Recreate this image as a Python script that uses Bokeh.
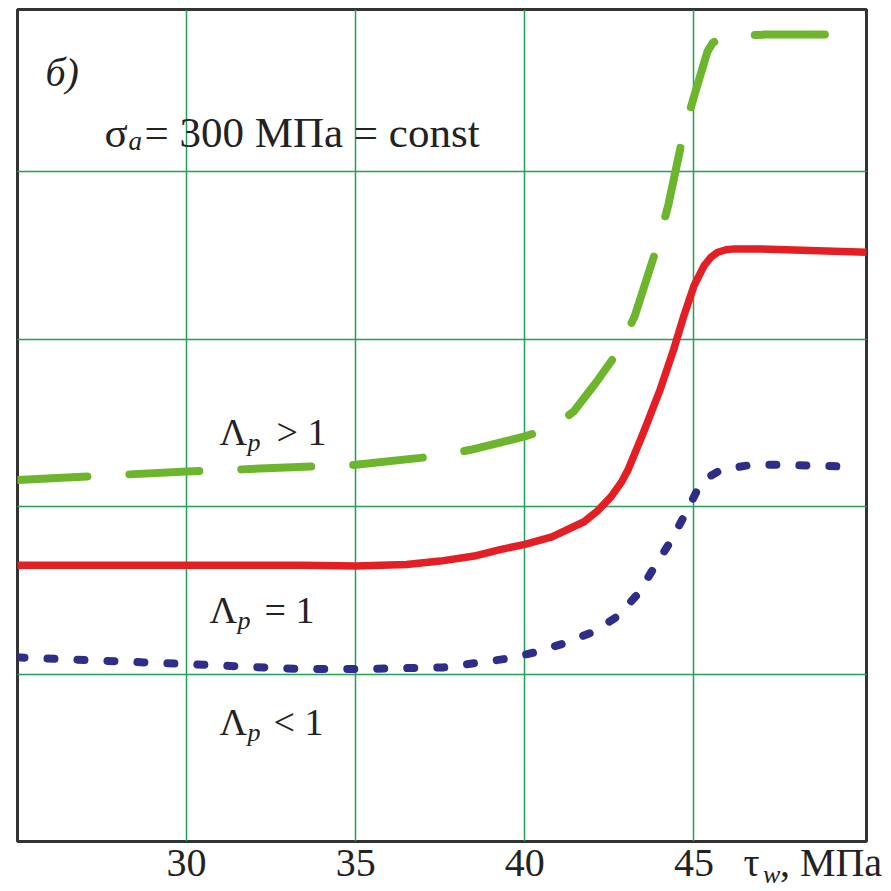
from bokeh.plotting import figure
from bokeh.models import Range1d, FixedTicker, Grid, Label, LinearAxis
from bokeh.embed import file_html
from bokeh.resources import INLINE

# ---- data ----
tau_eq = [25.0, 30.0, 33.4, 35.0, 36.5, 37.5, 38.5, 39.3, 40.0, 40.8, 41.75, 42.15, 42.55,
          42.85, 43.05, 43.5, 44.0, 44.4, 44.7, 45.0, 45.3, 45.5, 45.7, 45.95, 46.2, 47.0, 50.1]
lam_eq = [1.65, 1.65, 1.65, 1.645, 1.655, 1.675, 1.705, 1.745, 1.775, 1.82, 1.91, 1.975, 2.06,
          2.145, 2.22, 2.44, 2.70, 2.94, 3.14, 3.32, 3.44, 3.49, 3.52, 3.535, 3.54, 3.54, 3.52]

tau_gt = [25.0, 30.0, 35.0, 37.3, 38.4, 40.0, 40.6, 41.0, 41.45, 42.1, 42.8, 43.25, 43.95,
          44.25, 44.7, 45.0, 45.4, 45.55, 45.8, 46.0, 47.1, 49.4]
lam_gt = [2.16, 2.21, 2.25, 2.30, 2.34, 2.42, 2.46, 2.50, 2.57, 2.74, 2.94, 3.14, 3.58,
          3.81, 4.24, 4.45, 4.72, 4.77, 4.80, 4.81, 4.82, 4.82]

tau_lt = [25.0, 30.0, 33.4, 35.0, 37.6, 39.4, 40.3, 41.1, 42.0, 42.7, 43.35, 43.8,
          44.3, 44.7, 45.1, 45.45, 45.8, 46.7, 47.6, 49.45]
lam_lt = [1.10, 1.06, 1.03, 1.03, 1.04, 1.09, 1.13, 1.18, 1.25, 1.34, 1.48, 1.63,
          1.79, 1.94, 2.10, 2.18, 2.22, 2.25, 2.25, 2.24]

x_ticks = [30, 35, 40, 45]
y_grid = [1, 2, 3, 4]

# axis title "τ_w, МПа" placed as extra labels on the x axis row
unit_ticks = [46.7, 49.05]
unit_texts = ["τ", ", МПа"]
sub_tick = 47.3
sub_text = "w"

X0, X1 = 25.0, 50.1
Y0, Y1 = 0.0, 4.97

# frame geometry (pixels)
FL, FR, FT, FB = 17, 866, 9, 842
W = H = 891

FONT = "Liberation Serif"
INK = "#222222"

p = figure(width=W, height=H, x_range=Range1d(X0, X1), y_range=Range1d(Y0, Y1),
           output_backend="svg", toolbar_location=None, y_axis_location=None,
           min_border_left=FL, min_border_right=W - FR, min_border_top=FT,
           min_border_bottom=H - FB)

p.outline_line_color = "#333333"
p.outline_line_width = 3
p.background_fill_color = "white"
p.border_fill_color = "white"

ax = p.xaxis[0]
ax.ticker = FixedTicker(ticks=x_ticks + unit_ticks)
ax.major_label_overrides = {t: s for t, s in zip(unit_ticks, unit_texts)}
ax.axis_line_color = None
ax.major_tick_line_color = None
ax.minor_tick_line_color = None
ax.major_tick_out = 0
ax.major_tick_in = 0
ax.major_label_text_font = FONT
ax.major_label_text_font_size = "40px"
ax.major_label_text_color = INK
ax.major_label_standoff = -2

ax2 = LinearAxis(ticker=FixedTicker(ticks=[sub_tick]),
                 major_label_overrides={sub_tick: sub_text},
                 axis_line_color=None, major_tick_line_color=None,
                 minor_tick_line_color=None, major_tick_out=0, major_tick_in=0,
                 major_label_text_font=FONT, major_label_text_font_size="26px",
                 major_label_text_font_style="italic",
                 major_label_text_color=INK, major_label_standoff=-28)
p.add_layout(ax2, "below")

p.xgrid.ticker = FixedTicker(ticks=x_ticks)
p.xgrid.grid_line_color = "#22a05a"
p.xgrid.grid_line_width = 1.5
p.add_layout(Grid(dimension=1, ticker=FixedTicker(ticks=y_grid),
                  grid_line_color="#22a05a", grid_line_width=1.5))

p.line(tau_gt, lam_gt, line_color="#6cb52d", line_width=8, line_dash="70 42",
       line_cap="round", line_join="round")
p.line(tau_eq, lam_eq, line_color="#e31e24", line_width=7.5, line_cap="round",
       line_join="round")
p.line(tau_lt, lam_lt, line_color="#2e2d88", line_width=8, line_dash="7 23",
       line_cap="round", line_join="round")


def dx(px):
    return X0 + (px - FL) * (X1 - X0) / (FR - FL)


def dy(py):
    return Y0 + (FB - py) * (Y1 - Y0) / (FB - FT)


def txt(px, py, s, size="40px", italic=False):
    p.add_layout(Label(x=dx(px), y=dy(py), text=s, text_font=FONT,
                       text_font_size=size,
                       text_font_style="italic" if italic else "normal",
                       text_color=INK, text_baseline="alphabetic",
                       text_align="left"))


txt(45, 72, "б)", "40px", True)

txt(104, 132, "σ", "43px")
txt(128, 141, "a", "27px", True)
txt(144, 132, "= 300 МПа = const", "43px")

txt(219, 432, "Λ", "38px")
txt(247, 443, "p", "26px", True)
txt(276, 432, "> 1", "38px")

txt(209, 610, "Λ", "38px")
txt(237, 621, "p", "26px", True)
txt(264, 610, "= 1", "38px")

txt(219, 722, "Λ", "38px")
txt(247, 733, "p", "26px", True)
txt(273, 722, "< 1", "38px")

open("out.html", "w").write(file_html(p, INLINE))
